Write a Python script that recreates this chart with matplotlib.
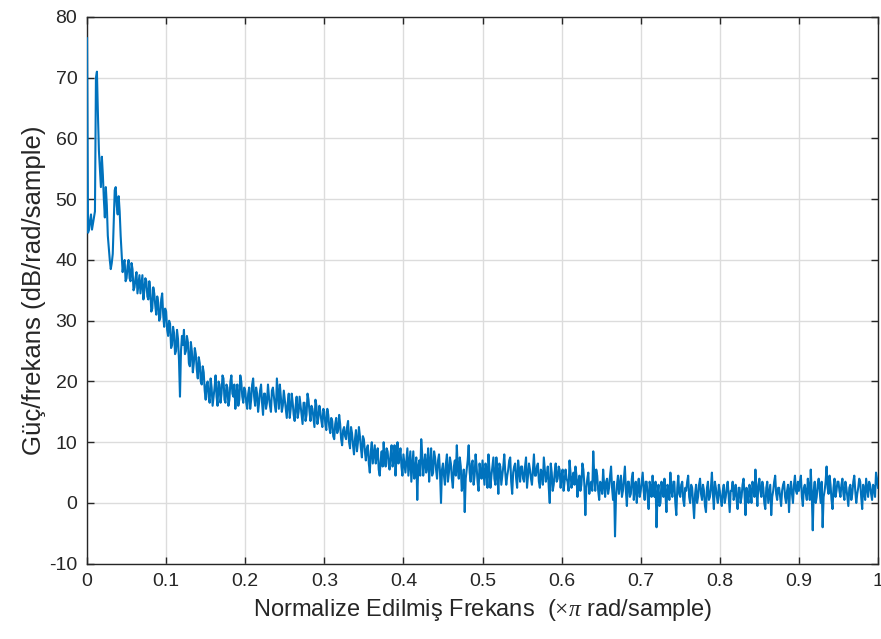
#! /usr/bin/env python
# -*- coding: utf-8 -*-

import numpy as np
import matplotlib
matplotlib.use('Agg')
from matplotlib import pyplot as plt

# power spectral density estimate (dB/rad/sample).
# psd_db: values at 0, 0.0025, 0.005 ... 1
# psd_db_mid: values half-way between those (0.00125, 0.00375 ... 0.99875)
psd_db = [
    # 0.00 - 0.0475
    76.5, 45, 47.5, 46, 48, 71, 58, 52, 54, 47,
    49, 42, 38.5, 41, 51.5, 49, 50.5, 44, 38, 40,
    # 0.05 - 0.0975
    37, 40, 36.5, 38.5, 35.5, 38, 36, 34.5, 37.5, 35,
    36.5, 33.5, 35, 32, 34.5, 31, 33, 30.5, 34.5, 29,
    # 0.10 - 0.1475
    31.5, 27.5, 29.5, 26, 28, 25, 27, 17.5, 27.5, 28.5,
    25, 26.5, 22.5, 25, 23, 24.5, 20.5, 23, 19.5, 21.5,
    # 0.15 - 0.1975
    17, 20, 16.5, 19, 17.5, 21, 16, 19.5, 18, 20.5,
    16.5, 19, 17, 21, 17.5, 15.5, 19.5, 17, 20, 16.5,
    # 0.20 - 0.2475
    18.5, 15.5, 19, 17, 20.5, 16, 18, 16.5, 19.5, 14.5,
    18, 16.5, 17.5, 15, 19, 16, 20.5, 15.5, 17.5, 16,
    # 0.25 - 0.2975
    17, 14, 18, 15.5, 16.5, 13.5, 17.5, 15, 16, 13,
    16.5, 14.5, 17, 13.5, 15.5, 12.5, 16, 14, 15, 12.5,
    # 0.30 - 0.3475
    15, 12, 14.5, 11.5, 13.5, 10.5, 14, 12, 13, 9.5,
    12.5, 10.5, 13.5, 9, 11.5, 8, 12, 10, 11, 7.5,
    # 0.35 - 0.3975
    10.5, 7, 9.5, 5, 10, 8, 6.5, 9, 4.5, 8.5,
    10, 6, 8.5, 5.5, 9.5, 7, 4.5, 10, 7.5, 6,
    # 0.40 - 0.4475
    8, 5, 9, 6.5, 3.5, 8.5, 5.5, 0.5, 7, 10.5,
    4.5, 8, 6, 3.5, 9, 5, 7.5, 4, 8, 0,
    # 0.45 - 0.4975
    6.5, 3, 8, 5, 6.5, 2.5, 7, 9.5, 4, 6,
    3, -1.5, 5.5, 9.5, 3.5, 7, 4.5, 6, 2, 5,
    # 0.50 - 0.5475
    7, 3, 5.5, 8, 2.5, 6, 4, 7.5, 1.5, 6,
    4.5, 8, 3, 5.5, 7.5, 1.5, 6, 4, 7, 3.5,
    # 0.55 - 0.5975
    6, 3.5, 7.5, 4.5, 5.5, 3, 8, 4.5, 6.5, 2.5,
    5, 7.5, 3.5, 6, 0, 5, 3, 6.5, 4, 5.5,
    # 0.60 - 0.6475
    4.5, 2, 5.5, 3.5, 7, 2.5, 5, 6, 1, 4.5,
    3, 5.5, -2, 4, 1.5, 3.5, 8.5, 2, 4.5, 0.5,
    # 0.65 - 0.6975
    3, 5.5, 1, 4, 2.5, 6, 0.5, -5.5, 3, 1.5,
    4.5, 2, 6, -0.5, 3.5, 1.5, 5, 2.5, 0, 4,
    # 0.70 - 0.7475
    2, 5, 0.5, 3.5, -1, 2.5, 4.5, 1, -4, 3,
    0, 2, 4, -1.5, 2.5, 5, 1, 3.5, -2, 4.5,
    # 0.75 - 0.7975
    1, 3.5, -0.5, 2, 4.5, 0, 2.5, -2.5, 3, 1,
    4, 0.5, 2, -1.5, 3.5, 1, 5, -1, 2.5, 0,
    # 0.80 - 0.8475
    2, -0.5, 3, 1, 3.5, -1.5, 2, 0.5, 3, -1,
    2.5, 1, 4, -2, 1.5, 3, 0, 2.5, 5.5, -0.5,
    # 0.85 - 0.8975
    4, 1, 2.5, -1, 3.5, 1.5, -2, 2, 4.5, 0.5,
    2.5, -0.5, 3, 1, 2, -1.5, 3.5, 0, 4.5, 1.5,
    # 0.90 - 0.9475
    2, 4.5, -0.5, 3, 0.5, 2.5, 5.5, -4.5, 3.5, 1,
    4, 0, -4, 2, 6, 1.5, 3, -1, 4, 2,
    # 0.95 - 1.00
    3.5, 1, 4, 0.5, 2.5, -0.5, 3, 1.5, 4.5, 0,
    2.5, 3.5, -1, 2, 4, 1, 3, 0.5, 2.5, 5, 2.5,
]

psd_db_mid = [
    44.5, 46.5, 45, 47, 70, 64, 55, 57, 50, 52,
    44, 40, 39.5, 46, 52, 47.5, 48, 41, 39.5, 36.5,
    39, 37, 39.5, 35, 37, 34.5, 37.5, 36, 33.5, 37,
    34, 36.5, 31.5, 35.5, 32.5, 34, 30, 33.5, 31, 32,
    28.5, 30, 25.5, 29, 24.5, 28.5, 23.5, 25, 26, 24.5,
    27.5, 23, 26.5, 21.5, 25.5, 22, 24, 20, 22.5, 18.5,
    19.5, 17.5, 20.5, 16, 19, 17.5, 20, 16.5, 21, 17,
    19.5, 16, 20, 18, 19.5, 18, 16, 21, 17.5, 19,
    16.5, 18, 15.5, 19.5, 17.5, 19, 15, 18.5, 16.5, 18,
    15.5, 19.5, 16, 18.5, 17.5, 15, 18, 19.5, 15, 18.5,
    15.5, 16.5, 14, 18, 14.5, 16, 14, 17.5, 14.5, 16.5,
    13.5, 18, 15, 16, 14, 17, 13, 16, 13.5, 15.5,
    13, 15.5, 12.5, 14, 11, 13, 11.5, 14.5, 10.5, 12,
    11, 12.5, 10, 12.5, 9.5, 10.5, 8.5, 12.5, 9, 11,
    8.5, 9, 6.5, 8.5, 6.5, 9.5, 8, 5.5, 7, 6,
    7.5, 9, 6.5, 8, 6, 9.5, 7.5, 6.5, 9, 4.5,
    6.5, 7, 4.5, 8.5, 6, 4, 7.5, 6, 4.5, 8,
    6.5, 5, 9, 6.5, 4.5, 8.5, 5.5, 7, 5, 5.5,
    4.5, 6.5, 3.5, 7.5, 4, 6, 4.5, 5.5, 7.5, 2,
    5.5, 4, 7, 5, 6.5, 3, 8, 3.5, 6.5, 4,
    5, 6.5, 2.5, 5.5, 4.5, 7.5, 3, 5, 6.5, 3,
    6, 5, 4.5, 7, 3.5, 5, 6.5, 2.5, 5.5, 6,
    4, 6, 2.5, 6.5, 4, 5.5, 4.5, 6, 3.5, 5.5,
    3, 5.5, 4.5, 2.5, 6.5, 2, 5, 3.5, 6, 2.5,
    5.5, 3.5, 4, 2, 5, 4, 3, 4.5, 3.5, 2,
    6.5, 3, 2.5, 5, 3, 2, 4.5, 5.5, 2, 3.5,
    1.5, 3, 3.5, 1.5, 4.5, 2.5, 3.5, 1, 4.5, 3,
    1, 4, 2, 3.5, 1, 4, 0.5, 3.5, 2.5, 1,
    3.5, 2, 3.5, 1, 3.5, 1, 2, 3.5, 1.5, -0.5,
    3.5, 1, 1.5, 3, 0.5, 2, 3.5, 0, 2.5, 1.5,
    3, 0.5, 2.5, 3.5, 1, 3, 0, 1.5, 0, 3,
    1.5, 3, -0.5, 2.5, 0.5, 2.5, 1.5, 3.5, 1, 3,
    0.5, 2, 0, 2.5, 1, 2, 3.5, 1.5, 0.5, 2.5,
    0, 3, 1.5, 2.5, 0, 2, 3.5, 1, 2, 3,
    2, 3.5, 0, 2.5, 0, 3, 1, 3.5, 1.5, 2.5,
    1, 2, 3.5, 0, 3, 2, 1.5, 3, 2, 3.5,
    3.5, 1, 2.5, 1.5, 4, 0.5, 1.5, 2, 0, 3,
    2, 3.5, 1, 3.5, 2.5, 4.5, 0.5, 2.5, 1, 3.5,
    2, 3, 1.5, 3.5, 1, 2.5, 0.5, 3.5, 2, 1.5,
    4, 1, 3, 0.5, 2.5, 3.5, 1.5, 3, 1, 4,
]

x_ticks = [0, 0.1, 0.2, 0.3, 0.4, 0.5, 0.6, 0.7, 0.8, 0.9, 1]
x_tick_labels = ['0', '0.1', '0.2', '0.3', '0.4', '0.5',
                 '0.6', '0.7', '0.8', '0.9', '1']
y_ticks = [-10, 0, 10, 20, 30, 40, 50, 60, 70, 80]

plt.rcParams['font.family'] = ['Liberation Sans', 'DejaVu Sans']
plt.rcParams['axes.unicode_minus'] = False
plt.rcParams['mathtext.fontset'] = 'custom'
plt.rcParams['mathtext.rm'] = 'Liberation Serif'
plt.rcParams['mathtext.it'] = 'Liberation Serif:italic'

# merge the two readings into one trace
psd = np.empty(len(psd_db) + len(psd_db_mid))
psd[0::2] = psd_db
psd[1::2] = psd_db_mid
freq = np.linspace(0, 1, len(psd))

fig = plt.figure(figsize=(8.81, 6.39), dpi=100)
ax = fig.add_axes([0.0988, 0.1178, 0.8978, 0.8556])

# drawn above the spines so the jump at f=0 shows on the left edge
ax.plot(freq, psd, color='#0072BD', linewidth=1.5, zorder=3)

ax.set_xlim(0, 1)
ax.set_ylim(-10, 80)
ax.set_xticks(x_ticks)
ax.set_xticklabels(x_tick_labels)
ax.set_yticks(y_ticks)

# matlab-ish look: grid, box, inward ticks on all sides
ax.grid(True, color='#dcdcdc', linewidth=1.0)
ax.set_axisbelow(True)
ax.tick_params(direction='in', length=5, width=1.0, top=True, right=True,
               colors='#262626', labelsize=14, pad=7)
for s in ax.spines.values():
    s.set_color('#262626')
    s.set_linewidth(1.0)

ax.set_xlabel('Normalize Edilmiş Frekans  ($\\times\\pi$ rad/sample)',
              fontsize=17, color='#262626', labelpad=5)
ax.set_ylabel('Güç/frekans (dB/rad/sample)', fontsize=18.5, color='#262626',
              labelpad=2)

plt.savefig('out.png', dpi=100)
